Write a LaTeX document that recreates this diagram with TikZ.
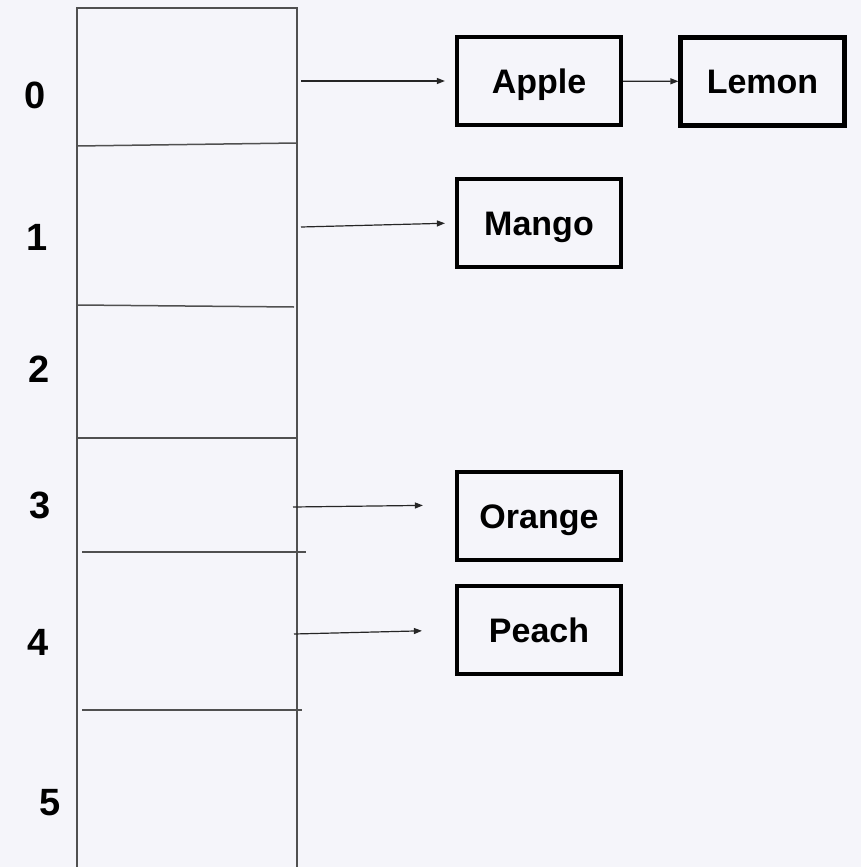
\documentclass[tikz,border=0pt]{standalone}
\usepackage{fontspec}
\setmainfont{Liberation Sans}
\usetikzlibrary{positioning,arrows.meta}
\definecolor{bgcol}{HTML}{F5F5FA}
\definecolor{cellline}{HTML}{505050}

\begin{document}
\begin{tikzpicture}[x=1pt,y=-1pt,
  item/.style={draw,line width=4.2pt,minimum width=164pt,minimum height=88pt,inner sep=0pt,text height=24pt,text depth=0pt,font=\bfseries\fontsize{34}{36}\selectfont},
  ptr/.style={-{Triangle[length=8pt,width=6pt]},line width=1.2pt,draw=black!85},
  cell/.style={cellline,line width=1.5pt}]
  \fill[bgcol] (0,0) rectangle (861,867);
  \useasboundingbox (0,0) rectangle (861,867);
  % table column
  \draw[cell] (77,867) -- (77,8) -- (297,8) -- (297,867);
  \draw[cell] (77,146) -- (297,143);
  \draw[cell] (77,305) -- (294,307);
  \draw[cell] (77,438) -- (297,438);
  \draw[cell] (82,552) -- (306,552);
  \draw[cell] (82,710) -- (302,710);
  % index labels
  \foreach \i/\x/\y in {0/35/95,1/37/237,2/39/369,3/40/505,4/38/642,5/50/803}
    \node[font=\bfseries\fontsize{38}{40}\selectfont] (idx\i) at (\x,\y) {\i};
  % entries
  \node[item] (apple) at (539,81) {Apple};
  \node[item] (lemon) at (762.5,81.5) {Lemon};
  \node[item] (mango) at (539,223) {Mango};
  \node[item] (orange) at (539,516) {Orange};
  \node[item] (peach) at (539,630) {Peach};
  % pointers
  \coordinate (s0) at (301,81);
  \coordinate (s1) at (301,227);
  \coordinate (s3) at (293,507);
  \coordinate (s4) at (294,634);
  \draw[ptr,shorten >=10pt] (s0) -- (apple.west);
  \draw[ptr] (apple) -- (lemon);
  \draw[ptr,shorten >=10pt] (s1) -- (mango.west);
  \draw[ptr,shorten >=32pt] (s3) -- ([yshift=11pt]orange.west);
  \draw[ptr,shorten >=33pt] (s4) -- (peach.west);
\end{tikzpicture}
\end{document}
